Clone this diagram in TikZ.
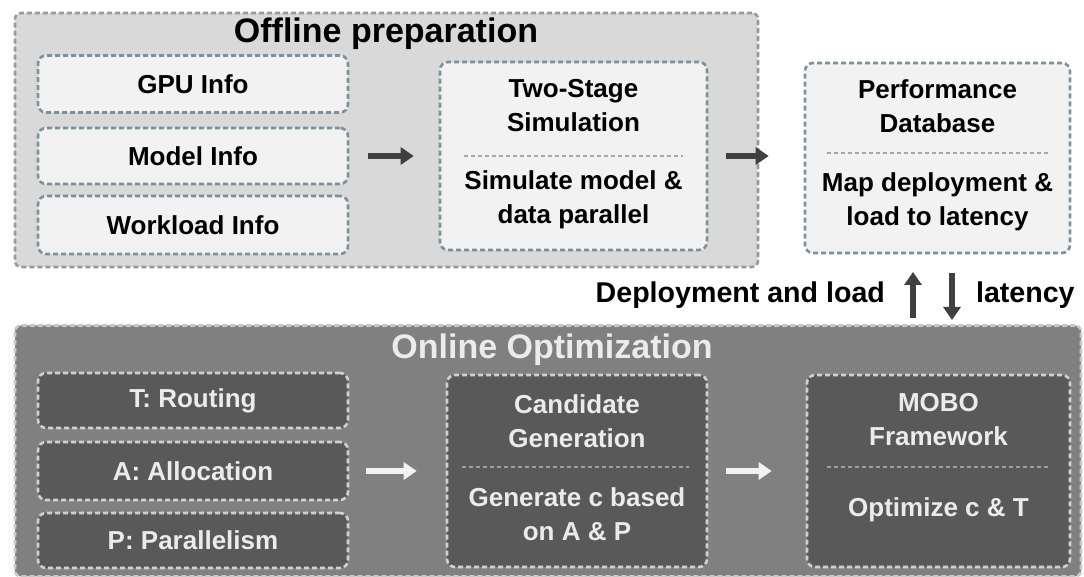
\documentclass[tikz,border=0pt]{standalone}
\usepackage{fontspec}
\setmainfont{Liberation Sans}
\usetikzlibrary{arrows.meta}
\definecolor{offfill}{HTML}{D9D9D9}
\definecolor{offline}{HTML}{9A9A9A}
\definecolor{boxfill}{HTML}{F2F2F2}
\definecolor{boxline}{HTML}{7E909A}
\definecolor{onfill}{HTML}{808080}
\definecolor{online}{HTML}{C8C8C8}
\definecolor{darkbox}{HTML}{595959}
\begin{document}
\begin{tikzpicture}[x=0.5pt, y=-0.5pt,
  every node/.style={font=\fontsize{13}{17}\selectfont\bfseries, align=center},
  panel/.style={rectangle, draw=offline, fill=offfill, line width=1.3pt,
    dash pattern=on 2.5pt off 1.5pt, rounded corners=3pt},
  infobox/.style={rectangle, draw=boxline, fill=boxfill, line width=1.3pt,
    dash pattern=on 2.5pt off 1.5pt, rounded corners=4pt, minimum width=155pt},
  darkinfo/.style={infobox, draw=online!85, fill=darkbox, text=white!92!black},
  sepline/.style={draw=black!35, line width=1.2pt, dash pattern=on 2pt off 1.5pt},
  bigarrow/.style={line width=2.6pt, black!75, -{Triangle[width=8.5pt,length=6.5pt]}},
  title/.style={font=\fontsize{17}{20}\selectfont\bfseries}]
  \useasboundingbox (0,0) rectangle (1084,577);
  % Offline stage
  \node[panel, minimum width=371.5pt, minimum height=127pt] (offp) at (386.5,140) {};
  \node[title] (offt) at (386,34) {Offline preparation};
  \node[infobox, minimum height=28.5pt] (gpu) at (193,84) {GPU Info};
  \node[infobox, minimum height=28pt] (model) at (193,156) {Model Info};
  \node[infobox, minimum height=29pt] (work) at (193,225) {Workload Info};
  \node[infobox, minimum width=133.5pt, minimum height=94pt] (sim) at (573.5,156) {};
  \node (simt) at (573.5,105.5) {Two-Stage\\Simulation};
  \node (simb) at (573.5,200) {Simulate model \&\\data parallel};
  \draw[sepline] ([xshift=12.5pt]sim.west) -- ([xshift=-12.5pt]sim.east);
  \node[infobox, minimum width=132.5pt, minimum height=95pt] (perf) at (937.5,158) {};
  \node (perft) at (937.5,106) {Performance\\Database};
  \node (perfb) at (937.5,201.5) {Map deployment \&\\load to latency};
  \draw[sepline] ([xshift=11.5pt,yshift=2.5pt]perf.west) -- ([xshift=-11.5pt,yshift=2.5pt]perf.east);
  \draw[bigarrow, shorten <=9.5pt, shorten >=12.5pt] (model.east) -- (sim.west |- model.east);
  \draw[bigarrow, shorten <=9pt, shorten >=17.5pt] (sim.east) -- (perf.west |- sim.east);
  % Link between the stages
  \coordinate (upS) at (913,318);
  \coordinate (upE) at (913,272);
  \coordinate (dnS) at (952,273);
  \coordinate (dnE) at (952,320);
  \draw[bigarrow] (upS) -- (upE);
  \draw[bigarrow] (dnS) -- (dnE);
  \node[anchor=east, font=\fontsize{14.3}{17}\selectfont\bfseries] (deplab) at (892,295) {Deployment and load};
  \node[anchor=west, font=\fontsize{14.3}{17}\selectfont\bfseries] (latlab) at (969,295) {latency};
  % Online stage
  \node[panel, draw=online, fill=onfill, minimum width=533pt, minimum height=125.5pt] (onp) at (548,451) {};
  \node[title, text=white!92!black] (ont) at (552,350) {Online Optimization};
  \node[darkinfo, minimum height=27.5pt] (route) at (193,400.5) {T: Routing};
  \node[darkinfo, minimum height=29pt] (alloc) at (193,471) {A: Allocation};
  \node[darkinfo, minimum height=27.5pt] (para) at (193,540.5) {P: Parallelism};
  \node[darkinfo, minimum width=130pt, minimum height=96pt] (cand) at (577,471) {};
  \node[text=white!92!black] (candt) at (577,421.5) {Candidate\\Generation};
  \node[text=white!92!black] (candb) at (577,514.5) {Generate c based\\on A \& P};
  \draw[sepline, draw=white!62!black] ([xshift=8pt,yshift=2pt]cand.west) -- ([xshift=-9.5pt,yshift=2pt]cand.east);
  \node[darkinfo, minimum width=131.5pt, minimum height=96pt] (mobo) at (938.5,471) {};
  \node[text=white!92!black] (mobot) at (938.5,420) {MOBO\\Framework};
  \node[text=white!92!black] (mobob) at (938.5,510) {Optimize c \& T};
  \draw[sepline, draw=white!62!black] ([xshift=10.5pt,yshift=2pt]mobo.west) -- ([xshift=-11.5pt,yshift=2pt]mobo.east);
  \draw[bigarrow, white!95!black, shorten <=8.5pt, shorten >=14.5pt] (alloc.east) -- (cand.west |- alloc.east);
  \draw[bigarrow, white!95!black, shorten <=9pt, shorten >=17pt] (cand.east) -- (mobo.west |- cand.east);
\end{tikzpicture}
\end{document}
